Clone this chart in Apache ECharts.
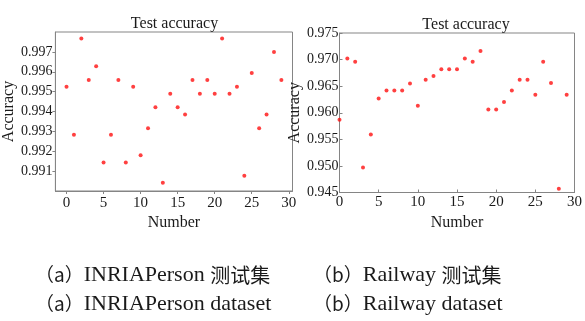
<!DOCTYPE html>
<html><head><meta charset="utf-8">
<script src="https://cdn.jsdelivr.net/npm/echarts@6/dist/echarts.min.js"></script>
<style>html,body{margin:0;padding:0;background:#fff}#c{width:585px;height:321px}</style>
</head><body><div id="c"></div>
<script>
const numbers = [0,1,2,3,4,5,6,7,8,9,10,11,12,13,14,15,16,17,18,19,20,21,22,23,24,25,26,27,28,29];
const inriaAcc = [0.99524,0.99283,0.99767,0.99558,0.99628,0.99144,0.99283,0.99558,0.99144,0.99524,
  0.99180,0.99316,0.99422,0.99041,0.99489,0.99422,0.99385,0.99558,0.99489,0.99558,
  0.99489,0.99767,0.99489,0.99524,0.99077,0.99594,0.99316,0.99385,0.99700,0.99558];
const railwayAcc = [0.9587,0.9702,0.9696,0.9497,0.9559,0.9627,0.9642,0.9642,0.9642,0.9655,
  0.9613,0.9662,0.9669,0.9682,0.9682,0.9682,0.9702,0.9696,0.9716,0.9606,
  0.9606,0.9620,0.9642,0.9662,0.9662,0.9634,0.9696,0.9656,0.9457,0.9634];
const xTicks = [0,5,10,15,20,25,30];
const inriaYTicks = [0.991,0.992,0.993,0.994,0.995,0.996,0.997];
const titleText = 'Test accuracy';
const xName = 'Number';
const yName = 'Accuracy';
const captionA = ['（a）', 'INRIAPerson', '测试集', 'dataset'];
const captionB = ['（b）', 'Railway', '测试集', 'dataset'];

const serif = 'Liberation Serif';
const cjk = 'Noto Sans CJK SC';
const axisGrey = '#858585';
const txt = '#1a1a1a';

const chart = echarts.init(document.getElementById('c'), null, {renderer:'canvas'});
const pts = (ys) => numbers.map((n,i)=>[n, ys[i]]);
const rich = {
  p:{fontFamily:cjk, fontSize:19, fill:txt, color:txt},
  l:{fontFamily:serif, fontSize:22, fill:txt, color:txt},
  c:{fontFamily:cjk, fontSize:20, fill:txt, color:txt}
};
const capLine = (parts, cjkSuffix) =>
  '{p|' + parts[0] + '}{l|' + parts[1] + ' }' + (cjkSuffix ? '{c|' + parts[2] + '}' : '{l|' + parts[3] + '}');
const capText = (x, y, t) => ({type:'text', left:x, top:y, style:{text:t, rich:rich, fontFamily:serif, fontSize:22, fill:txt}});

chart.setOption({
  backgroundColor:'#fff',
  animation:false,
  title:[
    {text:titleText, left:169.5, top:11, textAlign:'center', textStyle:{fontFamily:serif,fontSize:16,fontWeight:'normal',color:txt}},
    {text:titleText, left:461, top:12, textAlign:'center', textStyle:{fontFamily:serif,fontSize:16,fontWeight:'normal',color:txt}}
  ],
  grid:[
    {left:49, top:32, width:243.5, height:159, show:true, borderColor:axisGrey, borderWidth:1, backgroundColor:'#fff'},
    {left:339.5, top:33, width:238.5, height:159.5, show:true, borderColor:axisGrey, borderWidth:1, backgroundColor:'#fff'}
  ],
  xAxis:[
    {type:'value', gridIndex:0, min:-1.5, max:30.5, name:xName, nameLocation:'middle', nameGap:24,
     nameTextStyle:{fontFamily:serif,fontSize:16,color:txt},
     axisLine:{show:true,onZero:false,lineStyle:{color:axisGrey}}, splitLine:{show:false},
     axisTick:{show:true, inside:false, length:3, customValues:xTicks, lineStyle:{color:axisGrey}},
     axisLabel:{customValues:xTicks, margin:5, fontFamily:serif, fontSize:15, color:txt}},
    {type:'value', gridIndex:1, min:0, max:30, interval:5, name:xName, nameLocation:'middle', nameGap:22,
     nameTextStyle:{fontFamily:serif,fontSize:16,color:txt},
     axisLine:{show:true,onZero:false,lineStyle:{color:axisGrey}}, splitLine:{show:false},
     axisTick:{show:true, inside:true, length:3, lineStyle:{color:axisGrey}},
     axisLabel:{margin:2, fontFamily:serif, fontSize:15, color:txt}}
  ],
  yAxis:[
    {type:'value', gridIndex:0, min:0.990, max:0.998, name:yName, nameLocation:'middle', nameGap:22,
     nameTextStyle:{fontFamily:serif,fontSize:16,color:txt},
     axisLine:{show:true,onZero:false,lineStyle:{color:axisGrey}}, splitLine:{show:false},
     axisTick:{show:true, inside:false, length:3, customValues:inriaYTicks, lineStyle:{color:axisGrey}},
     axisLabel:{customValues:inriaYTicks, margin:3, fontFamily:serif, fontSize:14, color:txt, formatter:v=>v.toFixed(3)}},
    {type:'value', gridIndex:1, min:0.945, max:0.975, interval:0.005, name:yName, nameLocation:'middle', nameGap:24,
     nameTextStyle:{fontFamily:serif,fontSize:16,color:txt},
     axisLine:{show:true,onZero:false,lineStyle:{color:axisGrey}}, splitLine:{show:false},
     axisTick:{show:true, inside:true, length:3, lineStyle:{color:axisGrey}},
     axisLabel:{margin:1, fontFamily:serif, fontSize:14, color:txt, formatter:v=>v.toFixed(3)}}
  ],
  series:[
    {type:'scatter', xAxisIndex:0, yAxisIndex:0, data:pts(inriaAcc), symbolSize:4, itemStyle:{color:'#ff1010'}, clip:true},
    {type:'scatter', xAxisIndex:1, yAxisIndex:1, data:pts(railwayAcc), symbolSize:4, itemStyle:{color:'#ff1010'}, clip:true}
  ],
  graphic:[
    capText(35, 264, capLine(captionA, true)),
    capText(35, 293, capLine(captionA, false)),
    capText(313, 264, capLine(captionB, true)),
    capText(313, 293, capLine(captionB, false))
  ]
});
</script></body></html>
